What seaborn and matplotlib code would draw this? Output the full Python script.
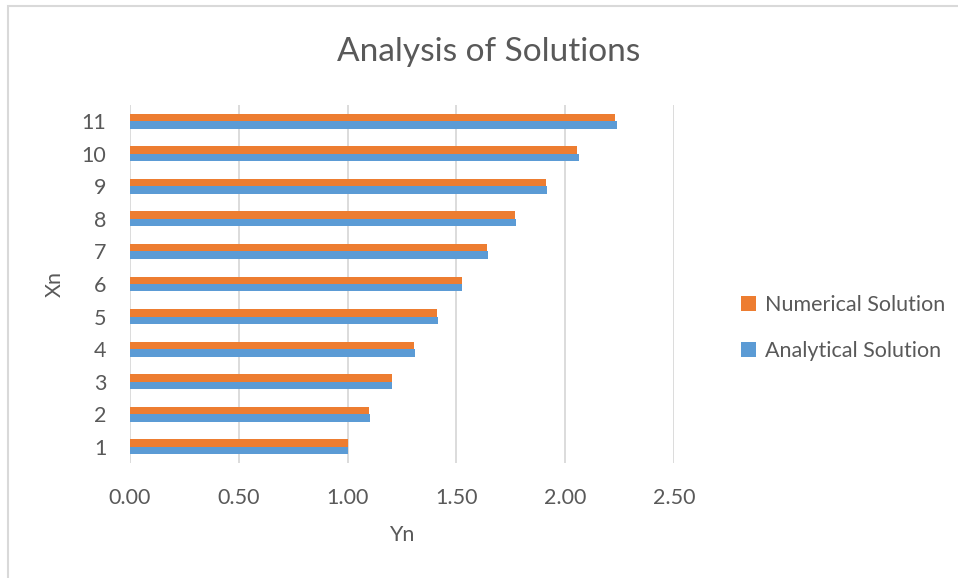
import numpy as np
import pandas as pd
import seaborn as sns
import matplotlib.pyplot as plt
from matplotlib.patches import Rectangle

# values
xn = ['1', '2', '3', '4', '5', '6', '7', '8', '9', '10', '11']
numerical = [1.000, 1.100, 1.202, 1.305, 1.411, 1.525, 1.641, 1.768, 1.912, 2.055, 2.229]
analytical = [1.000, 1.101, 1.203, 1.308, 1.414, 1.527, 1.644, 1.773, 1.917, 2.063, 2.236]
series = ['Numerical Solution', 'Analytical Solution']
colors = ['#ED7D31', '#5B9BD5']

df = pd.DataFrame({
    'Xn': xn * 2,
    'Yn': numerical + analytical,
    'series': [series[0]] * len(xn) + [series[1]] * len(xn),
})

sns.set_style('white')
plt.rcParams['font.family'] = ['Lato', 'DejaVu Sans']
txt = '#595959'

fig = plt.figure(figsize=(9.58, 5.78), dpi=100)
ax = fig.add_axes([130 / 958, 1 - 463 / 578, (674 - 130) / 958, (463 - 105) / 578])

sns.barplot(data=df, x='Yn', y='Xn', hue='series', order=xn[::-1], hue_order=series,
            palette=colors, orient='h', width=0.46, saturation=1, linewidth=0, ax=ax)

ax.set_xlim(0, 2.5)
ax.set_xticks(np.arange(0, 2.51, 0.5))
ax.set_xticklabels([f'{v:.2f}' for v in np.arange(0, 2.51, 0.5)])
ax.xaxis.grid(True, color='#D9D9D9', linewidth=1.3)
ax.set_axisbelow(True)
for s in ax.spines.values():
    s.set_visible(False)
ax.tick_params(axis='both', length=0, labelsize=15.5, colors=txt)
ax.tick_params(axis='x', pad=18)
ax.tick_params(axis='y', pad=17)
ax.set_xlabel('Yn', fontsize=15.5, color=txt, labelpad=12)
ax.set_ylabel('Xn', fontsize=15.5, color=txt, labelpad=12)

fig.text(489 / 958, 1 - 52 / 578, 'Analysis of Solutions', ha='center', va='center',
         fontsize=24, color=txt)

ax.legend(loc='center left', bbox_to_anchor=(722 / 958, 1 - 328 / 578),
          bbox_transform=fig.transFigure, frameon=False, fontsize=15.5,
          labelcolor=txt, handlelength=0.7, handleheight=0.7, handletextpad=0.4,
          labelspacing=1.2)

# chart frame
fig.patches.append(Rectangle((8 / 958, -0.1), 1.2, 1 - 6 / 578 + 0.1, transform=fig.transFigure,
                             fill=False, edgecolor='#D9D9D9', linewidth=1.5))

fig.savefig('out.png', dpi=100)
